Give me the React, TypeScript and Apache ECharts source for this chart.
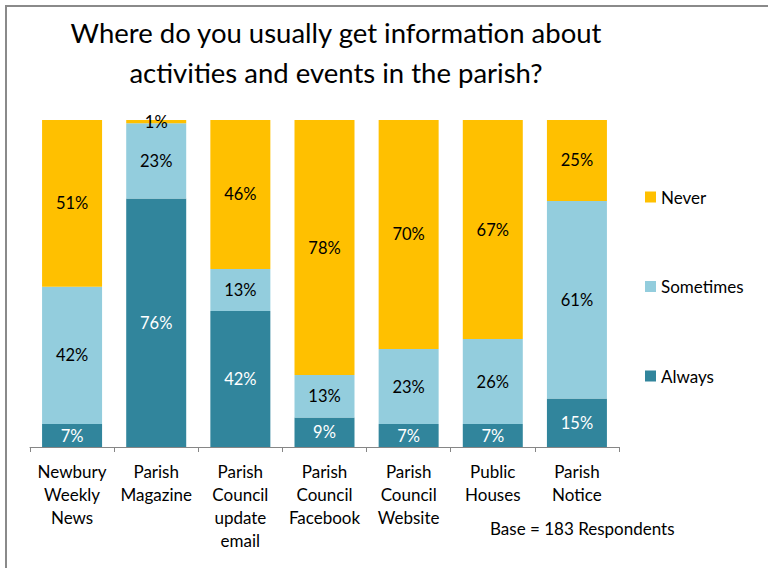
import React, { useEffect, useRef } from "react";
import * as echarts from "echarts";

const categories = [
  "Newbury\nWeekly\nNews",
  "Parish\nMagazine",
  "Parish\nCouncil\nupdate\nemail",
  "Parish\nCouncil\nFacebook",
  "Parish\nCouncil\nWebsite",
  "Public\nHouses",
  "Parish\nNotice",
];
const always = [7, 76, 42, 9, 7, 7, 15];
const sometimes = [42, 23, 13, 13, 23, 26, 61];
const never = [51, 1, 46, 78, 70, 67, 25];
const titleText = "Where do you usually get information about\nactivities and events in the parish?";
const baseNote = "Base = 183 Respondents";

const FONT = "Lato, 'Open Sans', sans-serif";

export default function App() {
  const ref = useRef<HTMLDivElement>(null);
  useEffect(() => {
    if (!ref.current) return;
    const chart = echarts.init(ref.current, undefined, { renderer: "svg" });
    const totals = categories.map((_, i) => always[i] + sometimes[i] + never[i]);
    const norm = (arr: number[]) =>
      arr.map((v, i) => ({ value: (v / totals[i]) * 100, raw: v }));
    const mk = (name: string, arr: number[], color: string, labelColor: string) => ({
      name,
      type: "bar",
      stack: "total",
      barWidth: 60,
      data: norm(arr),
      itemStyle: { color },
      label: {
        show: true,
        position: "inside",
        color: labelColor,
        fontFamily: FONT,
        fontSize: 16.5,
        formatter: (p: any) => `${p.data.raw}%`,
      },
    });
    chart.setOption({
      animation: false,
      backgroundColor: "#ffffff",
      textStyle: { fontFamily: FONT },
      title: {
        text: titleText,
        left: 331,
        top: 7,
        textAlign: "center",
        textStyle: {
          fontFamily: FONT,
          fontSize: 27.5,
          fontWeight: "normal",
          color: "#000",
          lineHeight: 40,
        },
      },
      legend: {
        orient: "vertical",
        left: 645,
        top: 188.5,
        padding: 0,
        itemWidth: 11,
        itemHeight: 11,
        itemGap: 72.5,
        icon: "rect",
        data: ["Never", "Sometimes", "Always"],
        textStyle: { fontFamily: FONT, fontSize: 17, color: "#000", lineHeight: 17 },
      },
      grid: { left: 30, right: 149, top: 120, bottom: 121 },
      xAxis: {
        type: "category",
        data: categories,
        axisLine: { lineStyle: { color: "#868686", width: 1 } },
        axisTick: { show: true, length: 5, lineStyle: { color: "#868686" } },
        axisLabel: {
          interval: 0,
          margin: 13,
          fontFamily: FONT,
          fontSize: 17,
          color: "#000",
          lineHeight: 23,
        },
      },
      yAxis: {
        type: "value",
        min: 0,
        max: 100,
        show: false,
        splitLine: { show: false },
      },
      series: [
        mk("Always", always, "#31859C", "#ffffff"),
        mk("Sometimes", sometimes, "#93CDDD", "#000000"),
        mk("Never", never, "#FFC000", "#000000"),
      ],
      graphic: [
        {
          type: "rect",
          shape: { x: 6, y: 6, width: 900, height: 700 },
          style: { fill: "none", stroke: "#8a8a8a", lineWidth: 2 },
          silent: true,
        },
        {
          type: "text",
          x: 490,
          y: 528,
          style: {
            text: baseNote,
            fontFamily: FONT,
            fontSize: 17,
            fill: "#000",
            verticalAlign: "middle",
          },
        },
      ],
    });
    return () => chart.dispose();
  }, []);
  return (
    <div
      ref={ref}
      style={{ position: "absolute", left: 0, top: 0, width: 768, height: 568 }}
    />
  );
}
